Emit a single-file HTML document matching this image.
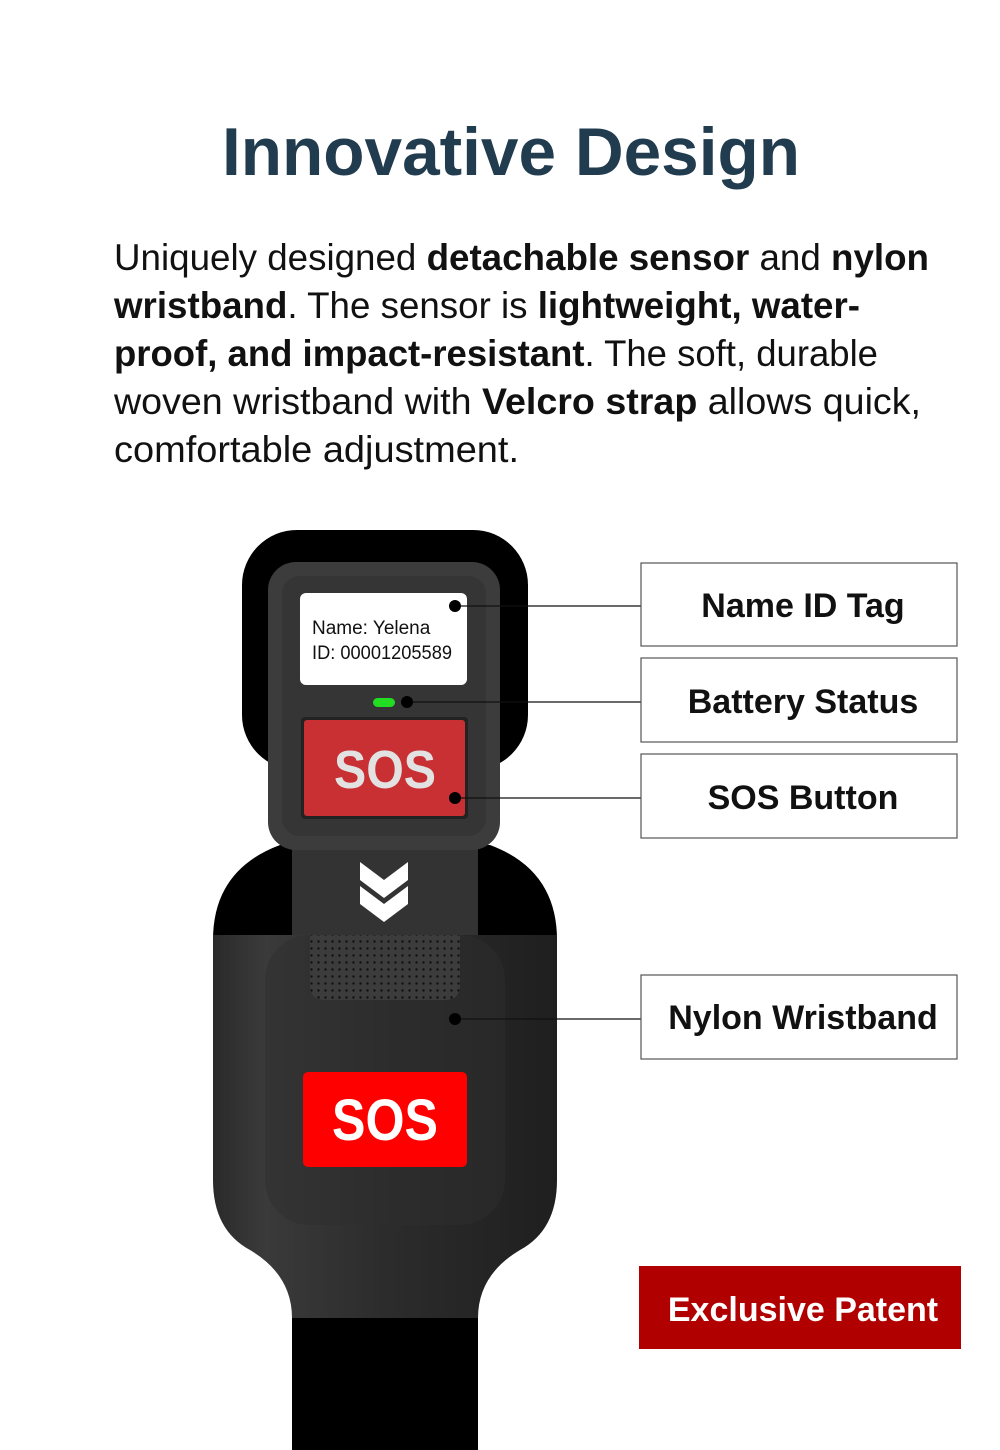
<!DOCTYPE html>
<html><head><meta charset="utf-8"><style>
html,body{margin:0;padding:0;background:#fff;}
svg{display:block;}
text{font-family:"Liberation Sans",sans-serif;}
</style></head><body>
<svg width="1000" height="1450" viewBox="0 0 1000 1450" xmlns="http://www.w3.org/2000/svg">
<defs>
<linearGradient id="body" x1="0" x2="1" y1="0" y2="0">
<stop offset="0" stop-color="#2a2a2a"/><stop offset="0.15" stop-color="#3a3a3a"/><stop offset="0.5" stop-color="#2c2c2c"/><stop offset="1" stop-color="#1f1f1f"/>
</linearGradient>
<pattern id="dots" width="7" height="7" patternUnits="userSpaceOnUse"><rect width="7" height="7" fill="#3c3c3c"/><circle cx="3.5" cy="3.5" r="1.2" fill="#111"/></pattern>
</defs>

<text x="511" y="175" text-anchor="middle" font-size="68" font-weight="bold" fill="#213b4f" textLength="578" lengthAdjust="spacingAndGlyphs">Innovative Design</text>

<g font-size="37" fill="#111">
<text x="114" y="270" textLength="815" lengthAdjust="spacingAndGlyphs">Uniquely designed <tspan font-weight="bold">detachable sensor</tspan> and <tspan font-weight="bold">nylon</tspan></text>
<text x="114" y="318" textLength="746" lengthAdjust="spacingAndGlyphs"><tspan font-weight="bold">wristband</tspan>. The sensor is <tspan font-weight="bold">lightweight, water-</tspan></text>
<text x="114" y="366" textLength="764" lengthAdjust="spacingAndGlyphs"><tspan font-weight="bold">proof, and impact-resistant</tspan>. The soft, durable</text>
<text x="114" y="414" textLength="807" lengthAdjust="spacingAndGlyphs">woven wristband with <tspan font-weight="bold">Velcro strap</tspan> allows quick,</text>
<text x="114" y="462" textLength="405" lengthAdjust="spacingAndGlyphs">comfortable adjustment.</text>
</g>

<rect x="242" y="530" width="286" height="240" rx="55" fill="#000"/>
<path d="M213 940 Q213 870 280 845 L490 845 Q557 870 557 940 Z" fill="#000"/>
<rect x="292" y="840" width="186" height="100" fill="#333"/>
<path d="M213 935 L557 935 L557 1180 Q557 1230 520 1250 Q478 1275 478 1318 L292 1318 Q292 1275 250 1250 Q213 1230 213 1180 Z" fill="url(#body)"/>
<rect x="265" y="935" width="240" height="290" rx="45" fill="#2e2e2e" opacity="0.5"/>
<path d="M310 935 L460 935 L460 985 Q460 1000 445 1000 L325 1000 Q310 1000 310 985 Z" fill="url(#dots)"/>
<rect x="292" y="1318" width="186" height="132" fill="#000"/>
<path d="M360 862 L384 880 L408 862 L408 880 L384 898 L360 880 Z" fill="#fff"/>
<path d="M360 886 L384 904 L408 886 L408 904 L384 922 L360 904 Z" fill="#fff"/>
<rect x="268" y="562" width="232" height="288" rx="28" fill="#3c3c3c"/>
<rect x="282" y="576" width="204" height="260" rx="18" fill="#353535"/>
<rect x="300" y="593" width="167" height="92" rx="6" fill="#fff"/>
<text x="312" y="634" font-size="19" fill="#111">Name: Yelena</text>
<text x="312" y="659" font-size="19" fill="#111" textLength="140" lengthAdjust="spacingAndGlyphs">ID: 00001205589</text>
<rect x="373" y="698" width="22" height="9" rx="4.5" fill="#22dd22"/>
<rect x="301" y="717" width="167" height="102" rx="4" fill="#222"/>
<rect x="304" y="720" width="161" height="96" rx="3" fill="#c93034"/>
<text x="334" y="788" font-size="54" font-weight="bold" fill="#e2e2e2" textLength="102" lengthAdjust="spacingAndGlyphs">SOS</text>
<rect x="303" y="1072" width="164" height="95" rx="5" fill="#ff0000"/>
<text x="332" y="1140" font-size="58" font-weight="bold" fill="#fff" textLength="106" lengthAdjust="spacingAndGlyphs">SOS</text>

<g stroke="#111" stroke-width="1.2">
<line x1="455" y1="606" x2="641" y2="606"/>
<line x1="407" y1="702" x2="641" y2="702"/>
<line x1="455" y1="798" x2="641" y2="798"/>
<line x1="455" y1="1019" x2="641" y2="1019"/>
</g>
<g fill="#000">
<circle cx="455" cy="606" r="6"/><circle cx="407" cy="702" r="6"/><circle cx="455" cy="798" r="6"/><circle cx="455" cy="1019" r="6"/>
</g>

<g fill="#fff" stroke="#555" stroke-width="1.2">
<rect x="641" y="563" width="316" height="83"/>
<rect x="641" y="658" width="316" height="84"/>
<rect x="641" y="754" width="316" height="84"/>
<rect x="641" y="975" width="316" height="84"/>
</g>
<g font-size="34" font-weight="bold" fill="#111" text-anchor="middle">
<text x="803" y="617">Name ID Tag</text>
<text x="803" y="713">Battery Status</text>
<text x="803" y="809">SOS Button</text>
<text x="803" y="1029">Nylon Wristband</text>
</g>
<rect x="639" y="1266" width="322" height="83" fill="#b00000"/>
<text x="803" y="1321" text-anchor="middle" font-size="34" font-weight="bold" fill="#fff">Exclusive Patent</text>
</svg>
</body></html>
